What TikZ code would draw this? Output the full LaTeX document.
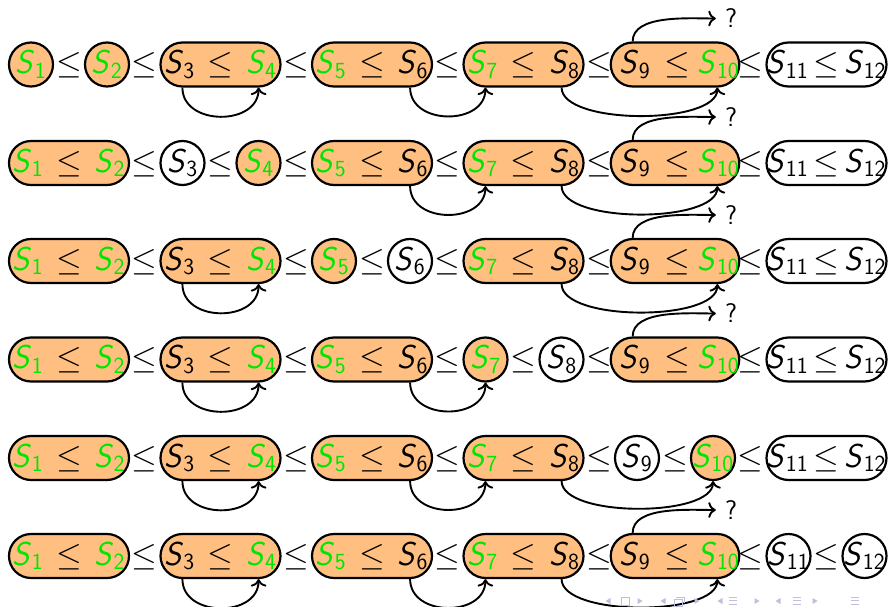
\RequirePackage{fix-cm}
\documentclass[tikz,border=0pt]{standalone}
\usepackage{amsmath}
\usetikzlibrary{calc,arrows.meta}
\definecolor{navc}{RGB}{190,190,222}
\definecolor{hi}{RGB}{0,230,0}
\newcommand{\Sv}[1]{\textsf{\textit{S}}_{\textsf{#1}}}
\newcommand{\Gv}[1]{{\color{hi}\Sv{#1}}}
\newcommand{\cz}[1]{\makebox[0pt]{$#1$}}
\newcommand{\bx}[2]{$#1\mkern2mu\le\mkern2mu#2$}
\newcommand{\bxn}{$\mkern5mu\Sv{9}\mkern3mu\le\mkern-1mu\Gv{10}$}
\newcommand{\bxw}{$\Sv{11}\mkern-2mu\le\mkern-2mu\Sv{12}$}
\tikzset{
  base/.style={inner sep=0pt, text height=24pt, text depth=6pt, font=\fontsize{33}{40}\selectfont},
  grp/.style={base, draw, line width=2.2pt, rounded corners=22pt, minimum width=120pt, minimum height=44pt},
  one/.style={base, draw, circle, line width=2.2pt, minimum size=44pt},
  on/.style={fill=orange!50},
  off/.style={fill=white},
  rel/.style={base},
  arc/.style={-{To[scale=1.3]}, line width=1.9pt},
  qm/.style={inner sep=9pt, font=\fontsize{27}{32}\selectfont\sffamily},
  navs/.style={navc, line width=0.8pt}
}
\begin{document}
\begin{tikzpicture}[x=1pt,y=1pt]
\useasboundingbox (0,0) rectangle (888,-607);
% ---------------- row a
\begin{scope}[yshift=-64.5pt]
\node[one,on] (a1l) at (31,0) {\cz{\Gv{1}}};
\node[rel] (a1m) at (69,0) {$\le$};
\node[one,on] (a1r) at (107,0) {\cz{\Gv{2}}};
\node[rel] (aL1) at (144.75,0) {$\le$};
\node[grp,on] (a2) at (220.5,0) {\bx{\Sv{3}}{\Gv{4}}};
\node[rel] (aL2) at (296.25,0) {$\le$};
\node[grp,on] (a3) at (372,0) {\bx{\Gv{5}}{\Sv{6}}};
\node[rel] (aL3) at (447.75,0) {$\le$};
\node[grp,on] (a4) at (523.5,0) {\bx{\Gv{7}}{\Sv{8}}};
\node[rel] (aL4) at (599.25,0) {$\le$};
\node[grp,on] (a5) at (675,0) {\bxn};
\node[rel] (aL5) at (750.75,0) {$\le$};
\node[grp,off] (a6) at (826.5,0) {\bxw};
\node[qm] (aq) at (731,46) {?};
\end{scope}
\draw[arc] ([xshift=23pt]a2.south west) to[out=-90,in=-90,looseness=1.3] ([xshift=-23pt]a2.south east);
\draw[arc] ([xshift=-23pt]a3.south east) to[out=-90,in=-90,looseness=1.3] ([xshift=23pt]a4.south west);
\draw[arc] ([xshift=-23pt]a4.south east) to[out=-90,in=-90,looseness=0.62] ([xshift=-23pt]a5.south east);
\draw[arc] ([xshift=23pt]a5.north west) to[out=90,in=180,looseness=0.8] (aq.west);
% ---------------- row b
\begin{scope}[yshift=-163pt]
\node[grp,on] (b1) at (69,0) {\bx{\Gv{1}}{\Gv{2}}};
\node[rel] (bL1) at (144.75,0) {$\le$};
\node[one,off] (b2l) at (182.5,0) {\cz{\Sv{3}}};
\node[rel] (b2m) at (220.5,0) {$\le$};
\node[one,on] (b2r) at (258.5,0) {\cz{\Gv{4}}};
\node[rel] (bL2) at (296.25,0) {$\le$};
\node[grp,on] (b3) at (372,0) {\bx{\Gv{5}}{\Sv{6}}};
\node[rel] (bL3) at (447.75,0) {$\le$};
\node[grp,on] (b4) at (523.5,0) {\bx{\Gv{7}}{\Sv{8}}};
\node[rel] (bL4) at (599.25,0) {$\le$};
\node[grp,on] (b5) at (675,0) {\bxn};
\node[rel] (bL5) at (750.75,0) {$\le$};
\node[grp,off] (b6) at (826.5,0) {\bxw};
\node[qm] (bq) at (731,46) {?};
\end{scope}
\draw[arc] ([xshift=-23pt]b3.south east) to[out=-90,in=-90,looseness=1.3] ([xshift=23pt]b4.south west);
\draw[arc] ([xshift=-23pt]b4.south east) to[out=-90,in=-90,looseness=0.62] ([xshift=-23pt]b5.south east);
\draw[arc] ([xshift=23pt]b5.north west) to[out=90,in=180,looseness=0.8] (bq.west);
% ---------------- row c
\begin{scope}[yshift=-261pt]
\node[grp,on] (c1) at (69,0) {\bx{\Gv{1}}{\Gv{2}}};
\node[rel] (cL1) at (144.75,0) {$\le$};
\node[grp,on] (c2) at (220.5,0) {\bx{\Sv{3}}{\Gv{4}}};
\node[rel] (cL2) at (296.25,0) {$\le$};
\node[one,on] (c3l) at (334,0) {\cz{\Gv{5}}};
\node[rel] (c3m) at (372,0) {$\le$};
\node[one,off] (c3r) at (410,0) {\cz{\Sv{6}}};
\node[rel] (cL3) at (447.75,0) {$\le$};
\node[grp,on] (c4) at (523.5,0) {\bx{\Gv{7}}{\Sv{8}}};
\node[rel] (cL4) at (599.25,0) {$\le$};
\node[grp,on] (c5) at (675,0) {\bxn};
\node[rel] (cL5) at (750.75,0) {$\le$};
\node[grp,off] (c6) at (826.5,0) {\bxw};
\node[qm] (cq) at (731,46) {?};
\end{scope}
\draw[arc] ([xshift=23pt]c2.south west) to[out=-90,in=-90,looseness=1.3] ([xshift=-23pt]c2.south east);
\draw[arc] ([xshift=-23pt]c4.south east) to[out=-90,in=-90,looseness=0.62] ([xshift=-23pt]c5.south east);
\draw[arc] ([xshift=23pt]c5.north west) to[out=90,in=180,looseness=0.8] (cq.west);
% ---------------- row d
\begin{scope}[yshift=-359.5pt]
\node[grp,on] (d1) at (69,0) {\bx{\Gv{1}}{\Gv{2}}};
\node[rel] (dL1) at (144.75,0) {$\le$};
\node[grp,on] (d2) at (220.5,0) {\bx{\Sv{3}}{\Gv{4}}};
\node[rel] (dL2) at (296.25,0) {$\le$};
\node[grp,on] (d3) at (372,0) {\bx{\Gv{5}}{\Sv{6}}};
\node[rel] (dL3) at (447.75,0) {$\le$};
\node[one,on] (d4l) at (485.5,0) {\cz{\Gv{7}}};
\node[rel] (d4m) at (523.5,0) {$\le$};
\node[one,off] (d4r) at (561.5,0) {\cz{\Sv{8}}};
\node[rel] (dL4) at (599.25,0) {$\le$};
\node[grp,on] (d5) at (675,0) {\bxn};
\node[rel] (dL5) at (750.75,0) {$\le$};
\node[grp,off] (d6) at (826.5,0) {\bxw};
\node[qm] (dq) at (731,46) {?};
\end{scope}
\draw[arc] ([xshift=23pt]d2.south west) to[out=-90,in=-90,looseness=1.3] ([xshift=-23pt]d2.south east);
\draw[arc] ([xshift=-23pt]d3.south east) to[out=-90,in=-90,looseness=1.3] (d4l.south);
\draw[arc] ([xshift=23pt]d5.north west) to[out=90,in=180,looseness=0.8] (dq.west);
% ---------------- row e
\begin{scope}[yshift=-458pt]
\node[grp,on] (e1) at (69,0) {\bx{\Gv{1}}{\Gv{2}}};
\node[rel] (eL1) at (144.75,0) {$\le$};
\node[grp,on] (e2) at (220.5,0) {\bx{\Sv{3}}{\Gv{4}}};
\node[rel] (eL2) at (296.25,0) {$\le$};
\node[grp,on] (e3) at (372,0) {\bx{\Gv{5}}{\Sv{6}}};
\node[rel] (eL3) at (447.75,0) {$\le$};
\node[grp,on] (e4) at (523.5,0) {\bx{\Gv{7}}{\Sv{8}}};
\node[rel] (eL4) at (599.25,0) {$\le$};
\node[one,off] (e5l) at (637,0) {\cz{\Sv{9}}};
\node[rel] (e5m) at (675,0) {$\le$};
\node[one,on] (e5r) at (713,0) {\cz{\Gv{10}}};
\node[rel] (eL5) at (750.75,0) {$\le$};
\node[grp,off] (e6) at (826.5,0) {\bxw};
\end{scope}
\draw[arc] ([xshift=23pt]e2.south west) to[out=-90,in=-90,looseness=1.3] ([xshift=-23pt]e2.south east);
\draw[arc] ([xshift=-23pt]e3.south east) to[out=-90,in=-90,looseness=1.3] ([xshift=23pt]e4.south west);
\draw[arc] ([xshift=-23pt]e4.south east) to[out=-90,in=-90,looseness=0.62] (e5r.south);
% ---------------- row f
\begin{scope}[yshift=-556pt]
\node[grp,on] (f1) at (69,0) {\bx{\Gv{1}}{\Gv{2}}};
\node[rel] (fL1) at (144.75,0) {$\le$};
\node[grp,on] (f2) at (220.5,0) {\bx{\Sv{3}}{\Gv{4}}};
\node[rel] (fL2) at (296.25,0) {$\le$};
\node[grp,on] (f3) at (372,0) {\bx{\Gv{5}}{\Sv{6}}};
\node[rel] (fL3) at (447.75,0) {$\le$};
\node[grp,on] (f4) at (523.5,0) {\bx{\Gv{7}}{\Sv{8}}};
\node[rel] (fL4) at (599.25,0) {$\le$};
\node[grp,on] (f5) at (675,0) {\bxn};
\node[rel] (fL5) at (750.75,0) {$\le$};
\node[one,off] (f6l) at (788.5,0) {\cz{\Sv{11}}};
\node[rel] (f6m) at (826.5,0) {$\le$};
\node[one,off] (f6r) at (864.5,0) {\cz{\Sv{12}}};
\node[qm] (fq) at (731,46) {?};
\end{scope}
\draw[arc] ([xshift=23pt]f2.south west) to[out=-90,in=-90,looseness=1.3] ([xshift=-23pt]f2.south east);
\draw[arc] ([xshift=-23pt]f3.south east) to[out=-90,in=-90,looseness=1.3] ([xshift=23pt]f4.south west);
\draw[arc] ([xshift=-23pt]f4.south east) to[out=-90,in=-90,looseness=0.62] ([xshift=-23pt]f5.south east);
\draw[arc] ([xshift=23pt]f5.north west) to[out=90,in=180,looseness=0.8] (fq.west);
% ---------------- navigation symbols
\begin{scope}[navs]
\foreach \x in {608,663,720,778} \fill (\x+2.5,-598) -- (\x-2.5,-601) -- (\x+2.5,-604) -- cycle;
\foreach \x in {640,697,757,815} \fill (\x-2.5,-598) -- (\x+2.5,-601) -- (\x-2.5,-604) -- cycle;
\draw (621,-597) rectangle (629,-605);
\draw (674,-599) rectangle (682,-606);
\draw (676,-597) -- (684,-597) -- (684,-603);
\foreach \x in {733,797,855} {
  \draw (\x-4,-597) -- (\x+4,-597);
  \draw (\x-4,-600.5) -- (\x+4,-600.5);
  \draw (\x-4,-604) -- (\x+4,-604);
}
\end{scope}
\end{tikzpicture}
\end{document}
